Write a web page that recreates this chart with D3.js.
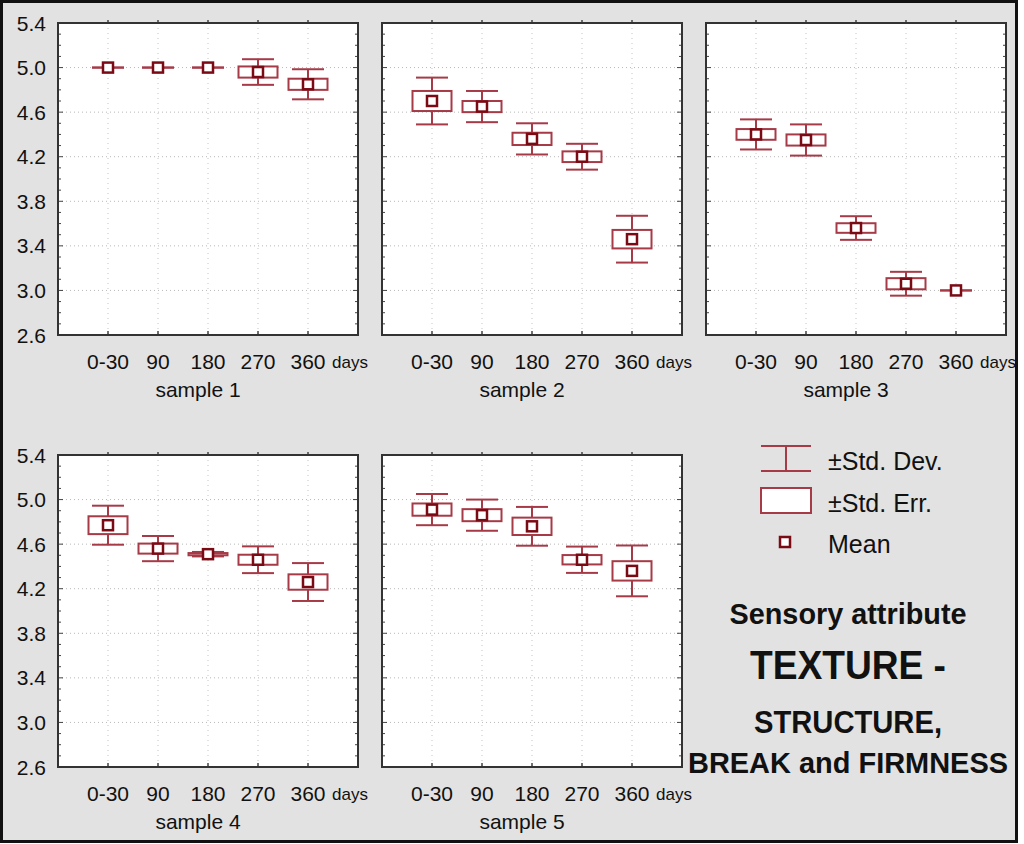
<!DOCTYPE html>
<html>
<head>
<meta charset="utf-8">
<title>texture</title>
<style>
  body { margin: 0; background: #fff; }
  text { font-family: "Liberation Sans", Arial, sans-serif; fill: #111; }
</style>
</head>
<body>
<div id="chart"></div>
<script src="https://cdn.jsdelivr.net/npm/d3@7/dist/d3.min.js"></script>
<script>

// data
var days = ['0-30', '90', '180', '270', '360'];
var sampleNames = ['sample 1', 'sample 2', 'sample 3', 'sample 4', 'sample 5'];
var yTicks = [2.6, 3.0, 3.4, 3.8, 4.2, 4.6, 5.0, 5.4];

var meanValues = [
  [5.00, 5.00, 5.00, 4.96, 4.85],
  [4.70, 4.65, 4.36, 4.20, 3.46],
  [4.40, 4.35, 3.56, 3.06, 3.00],
  [4.77, 4.56, 4.51, 4.46, 4.26],
  [4.91, 4.86, 4.76, 4.46, 4.36]
];
var stdErr = [
  [0, 0, 0, 0.05, 0.05],
  [0.09, 0.05, 0.055, 0.048, 0.083],
  [0.048, 0.05, 0.043, 0.05, 0],
  [0.08, 0.045, 0.01, 0.045, 0.069],
  [0.055, 0.054, 0.078, 0.042, 0.087]
];
var stdDev = [
  [0, 0, 0, 0.115, 0.135],
  [0.21, 0.14, 0.14, 0.116, 0.21],
  [0.135, 0.14, 0.106, 0.107, 0],
  [0.175, 0.113, 0.02, 0.12, 0.17],
  [0.14, 0.14, 0.174, 0.118, 0.228]
];

var W = 1024, H = 844;
var pw = 300, ph = 312;
// top-left corner of every panel
var panelPos = [[58, 23], [382, 23], [706, 23], [58, 455], [382, 455]];

var boxColor = '#a63a47', meanColor = '#7a0a14';
var boxW = 39, capW = 32, markSize = 10;

var svg = d3.select('#chart').append('svg')
  .attr('width', W).attr('height', H);

svg.append('rect')
  .attr('x', 1.5).attr('y', 1.5)
  .attr('width', 1015).attr('height', 840)
  .attr('fill', '#e2e2e2')
  .attr('stroke', '#111')
  .attr('stroke-width', 3);

var x = d3.scalePoint().domain(days).range([0, pw]).padding(1);
var y = d3.scaleLinear().domain([2.6, 5.4]).range([ph, 0]);
var minorTicks = d3.range(26, 55).map(d => d / 10);

sampleNames.forEach((name, s) => {
  var g = svg.append('g')
    .attr('transform', 'translate(' + panelPos[s][0] + ',' + panelPos[s][1] + ')');

  g.append('rect')
    .attr('width', pw).attr('height', ph)
    .attr('fill', '#fff');

  // dotted grid
  g.selectAll('.hgrid').data(yTicks.slice(1, -1)).enter().append('line')
    .attr('x1', 0).attr('x2', pw)
    .attr('y1', d => y(d)).attr('y2', d => y(d))
    .attr('stroke', '#b8b8b8').attr('stroke-dasharray', '1,3');
  g.selectAll('.vgrid').data(days).enter().append('line')
    .attr('x1', d => x(d)).attr('x2', d => x(d))
    .attr('y1', 0).attr('y2', ph)
    .attr('stroke', '#c4c4c4').attr('stroke-dasharray', '1,4');

  // minor / major ticks on both y sides, pointing inward
  g.selectAll('.ytl').data(minorTicks).enter().append('line')
    .attr('x1', 0)
    .attr('x2', d => (Math.round(d * 10) % 4 == 2) ? 5 : 3)
    .attr('y1', d => y(d)).attr('y2', d => y(d))
    .attr('stroke', '#444');
  g.selectAll('.ytr').data(minorTicks).enter().append('line')
    .attr('x1', pw)
    .attr('x2', d => pw - ((Math.round(d * 10) % 4 == 2) ? 5 : 3))
    .attr('y1', d => y(d)).attr('y2', d => y(d))
    .attr('stroke', '#444');
  g.selectAll('.xtb').data(days).enter().append('line')
    .attr('x1', d => x(d)).attr('x2', d => x(d))
    .attr('y1', ph).attr('y2', ph - 4)
    .attr('stroke', '#444').attr('stroke-width', 1.5);
  g.selectAll('.xtt').data(days).enter().append('line')
    .attr('x1', d => x(d)).attr('x2', d => x(d))
    .attr('y1', 0).attr('y2', -3)
    .attr('stroke', '#444').attr('stroke-width', 1.5);

  g.append('rect')
    .attr('width', pw).attr('height', ph)
    .attr('fill', 'none')
    .attr('stroke', '#333').attr('stroke-width', 2);

  // y labels only on the left column
  if (s == 0 || s == 3) {
    g.selectAll('.ylab').data(yTicks).enter().append('text')
      .attr('x', -12)
      .attr('y', d => y(d))
      .attr('dy', '0.36em')
      .style('text-anchor', 'end')
      .style('font-size', '21px')
      .text(d => d.toFixed(1));
  }

  g.selectAll('.xlab').data(days).enter().append('text')
    .attr('x', d => x(d))
    .attr('y', ph + 34)
    .style('text-anchor', 'middle')
    .style('font-size', '21px')
    .text(d => d);

  g.append('text')
    .attr('x', pw - 26).attr('y', ph + 33)
    .style('font-size', '17px')
    .text('days');

  g.append('text')
    .attr('x', pw / 2 - 10).attr('y', ph + 62)
    .style('text-anchor', 'middle')
    .style('font-size', '21px')
    .text(name);

  // box plots
  days.forEach((d, i) => {
    var m = meanValues[s][i], se = stdErr[s][i], sd = stdDev[s][i];
    var cx = x(d);
    var bg = g.append('g');
    bg.append('line')
      .attr('x1', cx).attr('x2', cx)
      .attr('y1', y(m + sd)).attr('y2', y(m - sd))
      .attr('stroke', boxColor).attr('stroke-width', 2);
    [m + sd, m - sd].forEach(v => {
      bg.append('line')
        .attr('x1', cx - capW / 2).attr('x2', cx + capW / 2)
        .attr('y1', y(v)).attr('y2', y(v))
        .attr('stroke', boxColor).attr('stroke-width', 2);
    });
    bg.append('rect')
      .attr('x', cx - boxW / 2).attr('width', boxW)
      .attr('y', y(m + se)).attr('height', y(m - se) - y(m + se))
      .attr('fill', '#fff')
      .attr('stroke', boxColor).attr('stroke-width', 2);
    bg.append('rect')
      .attr('x', cx - markSize / 2).attr('y', y(m) - markSize / 2)
      .attr('width', markSize).attr('height', markSize)
      .attr('fill', '#fff')
      .attr('stroke', meanColor).attr('stroke-width', 2.5);
  });
});

// legend
var lg = svg.append('g');
lg.append('line').attr('x1', 786).attr('x2', 786).attr('y1', 446).attr('y2', 471)
  .attr('stroke', boxColor).attr('stroke-width', 2);
lg.append('line').attr('x1', 761).attr('x2', 811).attr('y1', 446).attr('y2', 446)
  .attr('stroke', boxColor).attr('stroke-width', 2);
lg.append('line').attr('x1', 761).attr('x2', 811).attr('y1', 471).attr('y2', 471)
  .attr('stroke', boxColor).attr('stroke-width', 2);
lg.append('rect').attr('x', 761).attr('y', 488).attr('width', 50).attr('height', 25)
  .attr('fill', '#fff').attr('stroke', boxColor).attr('stroke-width', 2);
lg.append('rect').attr('x', 780).attr('y', 537).attr('width', 10).attr('height', 10)
  .attr('fill', '#fff').attr('stroke', meanColor).attr('stroke-width', 2.5);

var legendText = ['\u00B1Std. Dev.', '\u00B1Std. Err.', 'Mean'];
var legendBase = [470, 512, 553];
legendText.forEach((t, i) => {
  lg.append('text')
    .attr('x', 828).attr('y', legendBase[i])
    .style('font-size', '25px')
    .text(t);
});

// caption
var capLines = ['Sensory attribute', 'TEXTURE -', 'STRUCTURE,', 'BREAK and FIRMNESS'];
var capBase = [624, 679, 733, 773];
var capSize = [29, 40, 31, 30];
var capLen = [237, 196, 188, 320];
capLines.forEach((t, i) => {
  svg.append('text')
    .attr('x', 848).attr('y', capBase[i])
    .style('text-anchor', 'middle')
    .style('font-weight', 'bold')
    .style('font-size', capSize[i] + 'px')
    .attr('textLength', capLen[i])
    .attr('lengthAdjust', 'spacingAndGlyphs')
    .text(t);
});

</script>
</body>
</html>
